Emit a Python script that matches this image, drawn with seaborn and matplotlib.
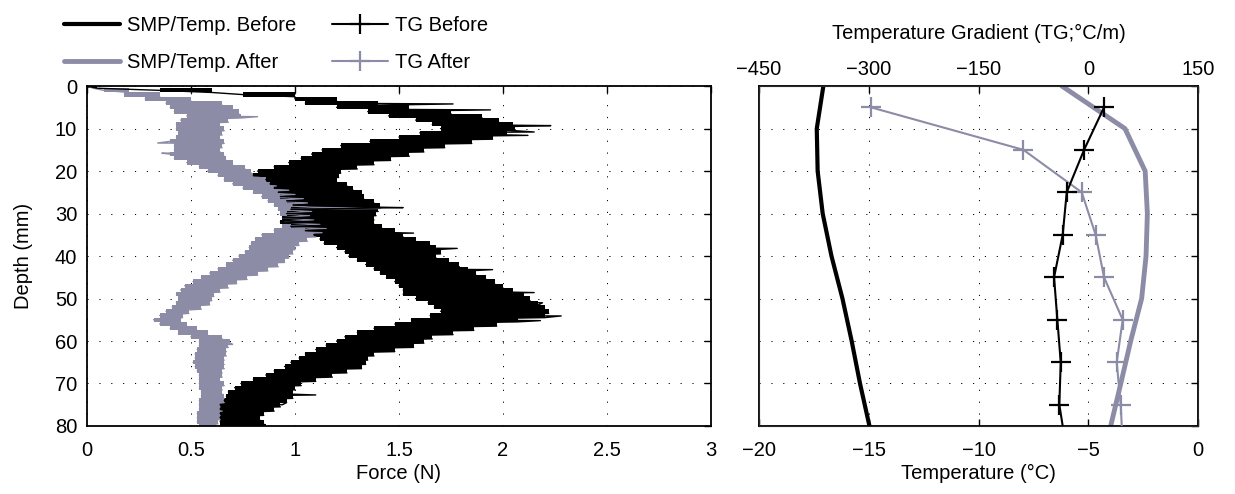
import matplotlib
matplotlib.use('Agg')
import matplotlib.pyplot as plt
from matplotlib.lines import Line2D
import pandas as pd
import seaborn as sns

BEFORE_COLOR = 'black'
AFTER_COLOR = '#8c8ca6'

smp_depth = list(range(81))
smp_before_low = [
    0.00, 0.35, 0.75, 1.00, 1.05, 1.20, 1.35, 1.45, 1.58, 1.66,
    1.70, 1.60, 1.50, 1.36, 1.22, 1.13, 1.08, 1.03, 0.97, 0.90,
    0.82, 0.80, 0.86, 0.88, 0.90, 0.92, 0.93, 0.96, 0.99, 0.98,
    0.96, 0.94, 0.93, 0.98, 1.05, 1.09, 1.12, 1.14, 1.20, 1.24,
    1.26, 1.30, 1.34, 1.38, 1.41, 1.44, 1.48, 1.50, 1.52, 1.52,
    1.58, 1.64, 1.67, 1.70, 1.65, 1.56, 1.48, 1.38, 1.30, 1.24,
    1.20, 1.15, 1.10, 1.05, 1.02, 0.98, 0.95, 0.90, 0.86, 0.80,
    0.74, 0.71, 0.68, 0.67, 0.66, 0.64, 0.64, 0.64, 0.64, 0.64,
    0.64,
]
smp_before_high = [
    0.05, 0.60, 1.00, 1.20, 1.40, 1.55, 1.75, 1.90, 1.98, 2.05,
    2.06, 2.02, 1.95, 1.85, 1.72, 1.62, 1.55, 1.46, 1.38, 1.30,
    1.22, 1.21, 1.20, 1.25, 1.28, 1.32, 1.33, 1.38, 1.41, 1.40,
    1.39, 1.38, 1.38, 1.42, 1.48, 1.52, 1.58, 1.65, 1.68, 1.70,
    1.68, 1.74, 1.79, 1.83, 1.87, 1.92, 1.96, 2.00, 2.05, 2.10,
    2.13, 2.17, 2.20, 2.22, 2.20, 2.07, 1.97, 1.86, 1.76, 1.66,
    1.62, 1.57, 1.48, 1.38, 1.35, 1.34, 1.32, 1.25, 1.18, 1.10,
    1.03, 1.00, 0.99, 0.99, 0.96, 0.93, 0.90, 0.85, 0.83, 0.85,
    0.86,
]
smp_after_low = [
    0.00, 0.08, 0.18, 0.28, 0.38, 0.40, 0.42, 0.48, 0.45, 0.43,
    0.43, 0.44, 0.43, 0.40, 0.42, 0.42, 0.40, 0.42, 0.48, 0.54,
    0.58, 0.63, 0.66, 0.70, 0.75, 0.80, 0.84, 0.87, 0.90, 0.92,
    0.93, 0.94, 0.95, 0.94, 0.90, 0.84, 0.81, 0.79, 0.78, 0.76,
    0.73, 0.70, 0.67, 0.63, 0.59, 0.55, 0.51, 0.47, 0.45, 0.43,
    0.44, 0.43, 0.41, 0.38, 0.35, 0.32, 0.35, 0.40, 0.44, 0.50,
    0.54, 0.54, 0.53, 0.52, 0.52, 0.51, 0.52, 0.53, 0.54, 0.54,
    0.54, 0.54, 0.55, 0.55, 0.54, 0.54, 0.54, 0.53, 0.53, 0.53,
    0.54,
]
smp_after_high = [
    0.03, 0.20, 0.35, 0.50, 0.65, 0.70, 0.73, 0.74, 0.68, 0.64,
    0.66, 0.65, 0.64, 0.66, 0.65, 0.64, 0.66, 0.67, 0.70, 0.76,
    0.79, 0.83, 0.86, 0.91, 0.97, 1.00, 1.04, 1.06, 1.08, 1.08,
    1.07, 1.09, 1.12, 1.15, 1.13, 1.10, 1.06, 1.02, 1.00, 0.99,
    0.97, 0.95, 0.92, 0.87, 0.82, 0.77, 0.72, 0.68, 0.64, 0.61,
    0.60, 0.59, 0.55, 0.49, 0.46, 0.45, 0.48, 0.53, 0.58, 0.65,
    0.69, 0.68, 0.67, 0.67, 0.66, 0.66, 0.66, 0.65, 0.65, 0.64,
    0.66, 0.65, 0.65, 0.66, 0.66, 0.64, 0.65, 0.64, 0.64, 0.63,
    0.62,
]
# (depth mm, force N) of the longest single spikes
smp_before_spikes = [
    (4.2, 1.76), (5.6, 1.94), (9.3, 2.23), (10.8, 2.15), (11.6, 2.12),
    (28.6, 1.52), (34.6, 1.57), (38.2, 1.78), (43.2, 1.95), (48.6, 2.15),
    (51.0, 2.19), (54.1, 2.28), (55.2, 2.18), (72.7, 1.10), (75.0, 0.94),
]
smp_after_spikes = [
    (7.2, 0.82), (13.4, 0.34), (15.8, 0.36), (28.8, 1.41), (60.8, 0.70),
]

# temperature profiles
temp_depth = [0, 10, 20, 30, 40, 50, 60, 70, 80]
temp_before = [-17.07, -17.37, -17.33, -17.1, -16.7, -16.2, -15.78, -15.4, -14.97]
temp_after = [-6.2, -3.33, -2.41, -2.31, -2.37, -2.57, -3.07, -3.52, -3.98]

# temperature gradient
tg_depth = [5, 15, 25, 35, 45, 55, 65, 75, 80]
tg_before = [21.5, -5.8, -29.5, -35, -46.8, -42.3, -37.7, -39.6, -35]
tg_after = [-297, -88.7, -9, 10, 21.5, 47, 38.8, 44.3, 45.7]

force_ticks = [0, 0.5, 1, 1.5, 2, 2.5, 3]
depth_ticks = [0, 10, 20, 30, 40, 50, 60, 70, 80]
temp_ticks = [-20, -15, -10, -5, 0]
tg_ticks = [-450, -300, -150, 0, 150]

FONT_SIZE = 14.5


def zigzag_trace(depth, low, high, spikes):
    """Alterna min y max de cada mm para dibujar la señal ruidosa."""
    rows = []
    for d, lo, hi in zip(depth, low, high):
        rows.append((d, lo))
        rows.append((d + 0.5, hi))
    rows.extend(spikes)
    return pd.DataFrame(rows, columns=['depth', 'force']).sort_values('depth')


def draw_smp(ax, depth, low, high, spikes, color):
    ax.fill_betweenx(depth, low, high, step='mid', color=color, linewidth=0)
    trace = zigzag_trace(depth, low, high, spikes)
    sns.lineplot(data=trace, x='force', y='depth', sort=False, estimator=None,
                 color=color, linewidth=1.0, ax=ax)


def style_axes(ax):
    ax.tick_params(direction='in', length=5, width=1.0, pad=7, labelsize=FONT_SIZE,
                   colors='black')
    ax.tick_params(axis='x', pad=11)
    for spine in ax.spines.values():
        spine.set_linewidth(1.3)
        spine.set_color('black')
    ax.grid(True, linestyle=(0, (1.2, 11)), color='black', linewidth=0.7)
    ax.set_axisbelow(True)


sns.set_style('white')
plt.rcParams['font.family'] = ['Liberation Sans', 'DejaVu Sans']
plt.rcParams['text.color'] = 'black'
plt.rcParams['axes.labelcolor'] = 'black'
plt.rcParams['axes.unicode_minus'] = True

fig = plt.figure(figsize=(12.35, 4.94), dpi=100)
ax_smp = fig.add_axes([0.0704, 0.1377, 0.5053, 0.688])
ax_temp = fig.add_axes([0.6146, 0.1377, 0.3555, 0.688])

# left panel: SMP force
draw_smp(ax_smp, smp_depth, smp_after_low, smp_after_high, smp_after_spikes, AFTER_COLOR)
draw_smp(ax_smp, smp_depth, smp_before_low, smp_before_high, smp_before_spikes, BEFORE_COLOR)

ax_smp.set_xlim(0, 3)
ax_smp.set_ylim(80, 0)
ax_smp.set_xticks(force_ticks)
ax_smp.set_xticklabels([f'{t:g}' for t in force_ticks])
ax_smp.set_yticks(depth_ticks)
ax_smp.set_xlabel('Force (N)', fontsize=FONT_SIZE, labelpad=3)
ax_smp.set_ylabel('Depth (mm)', fontsize=FONT_SIZE, labelpad=16)
style_axes(ax_smp)
ax_smp.tick_params(top=True, right=True)

# right panel: temperature and TG
sns.lineplot(x=temp_before, y=temp_depth, sort=False, estimator=None,
             color=BEFORE_COLOR, linewidth=3.0, ax=ax_temp)
sns.lineplot(x=temp_after, y=temp_depth, sort=False, estimator=None,
             color=AFTER_COLOR, linewidth=3.5, ax=ax_temp)
ax_temp.set_xlim(-20, 0)
ax_temp.set_ylim(80, 0)
ax_temp.set_xticks(temp_ticks)
ax_temp.set_yticks(depth_ticks)
ax_temp.set_yticklabels([])
ax_temp.set_xlabel('Temperature (°C)', fontsize=FONT_SIZE, labelpad=3)
ax_temp.set_ylabel('')
style_axes(ax_temp)
ax_temp.tick_params(right=True, top=False)

ax_tg = ax_temp.twiny()
marked = list(range(len(tg_depth) - 1))
for values, color in [(tg_after, AFTER_COLOR), (tg_before, BEFORE_COLOR)]:
    sns.lineplot(x=values, y=tg_depth, sort=False, estimator=None, color=color,
                 linewidth=1.5, marker='+', markersize=15, markeredgewidth=1.6,
                 markeredgecolor=color, markevery=marked, ax=ax_tg)
ax_tg.set_xlim(-450, 150)
ax_tg.set_ylim(80, 0)
ax_tg.set_xticks(tg_ticks)
ax_tg.set_xlabel('Temperature Gradient (TG;°C/m)', fontsize=FONT_SIZE, labelpad=15)
ax_tg.tick_params(direction='in', length=5, width=1.0, pad=5, labelsize=FONT_SIZE,
                  colors='black', top=True, bottom=False)

handles = [
    Line2D([], [], color=BEFORE_COLOR, linewidth=3.0),
    Line2D([], [], color=AFTER_COLOR, linewidth=3.5),
    Line2D([], [], color=BEFORE_COLOR, linewidth=1.5, marker='+', markersize=15,
           markeredgewidth=1.6),
    Line2D([], [], color=AFTER_COLOR, linewidth=1.5, marker='+', markersize=15,
           markeredgewidth=1.6),
]
labels = ['SMP/Temp. Before', 'SMP/Temp. After', 'TG Before', 'TG After']
fig.legend(handles, labels, ncol=2, loc='upper left', bbox_to_anchor=(0.052, 0.968),
           frameon=False, fontsize=FONT_SIZE, handlelength=2.75, handletextpad=0.35,
           columnspacing=1.8, labelspacing=0.9, borderpad=0, borderaxespad=0)

fig.savefig('out.png', dpi=100)
